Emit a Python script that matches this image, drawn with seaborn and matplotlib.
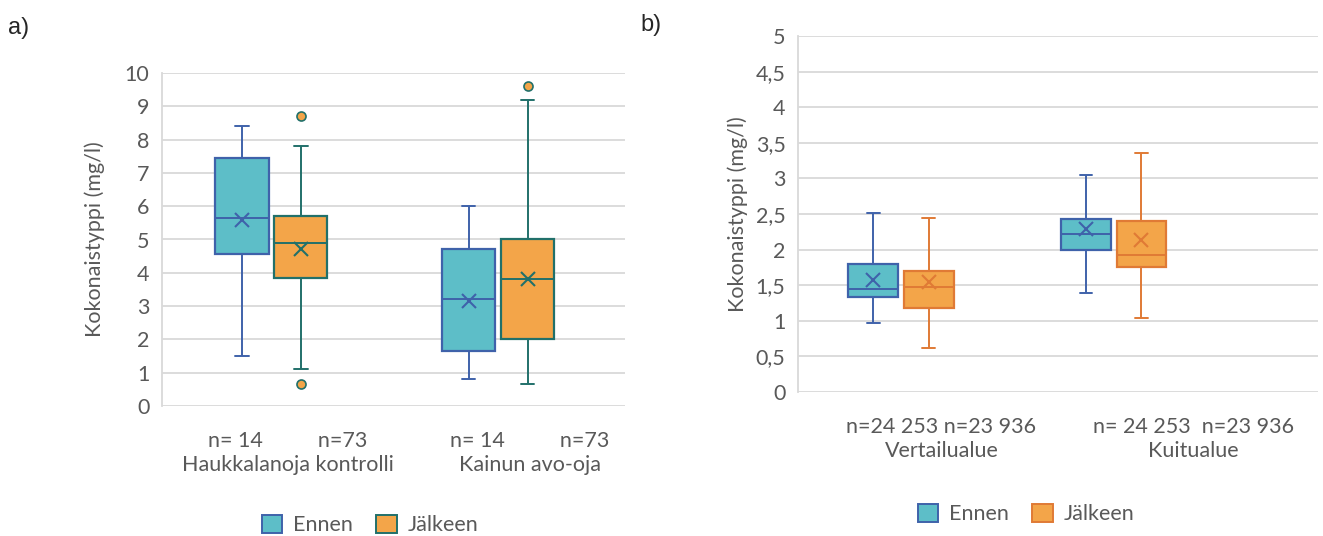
import numpy as np
import pandas as pd
import matplotlib.pyplot as plt
from matplotlib.patches import Patch
import seaborn as sns

# --- data: panel a ---
PERIODS = ["Ennen", "Jälkeen"]
A_SITES = ["Haukkalanoja kontrolli", "Kainun avo-oja"]
A_TICKLABELS = ["n= 14          n=73\nHaukkalanoja kontrolli",
                "n= 14          n=73\nKainun avo-oja"]
A_SITE = ["Haukkalanoja kontrolli", "Haukkalanoja kontrolli", "Kainun avo-oja", "Kainun avo-oja"]
A_PERIOD = ["Ennen", "Jälkeen", "Ennen", "Jälkeen"]
A_LOW = [1.50, 1.12, 0.82, 0.67]
A_Q1 = [4.55, 3.83, 1.66, 2.02]
A_MED = [5.65, 4.90, 3.20, 3.82]
A_Q3 = [7.44, 5.70, 4.70, 5.00]
A_HIGH = [8.40, 7.82, 6.02, 9.20]
A_MEAN = [5.60, 4.70, 3.16, 3.80]
A_OUT_SITE = ["Haukkalanoja kontrolli", "Haukkalanoja kontrolli", "Kainun avo-oja"]
A_OUT_PERIOD = ["Jälkeen", "Jälkeen", "Jälkeen"]
A_OUT_VALUE = [8.72, 0.66, 9.60]
A_YTICKS = [0, 1, 2, 3, 4, 5, 6, 7, 8, 9, 10]
A_YLABELS = ["0", "1", "2", "3", "4", "5", "6", "7", "8", "9", "10"]

# --- data: panel b ---
B_SITES = ["Vertailualue", "Kuitualue"]
B_TICKLABELS = ["n=24 253 n=23 936\nVertailualue",
                "n= 24 253  n=23 936\nKuitualue"]
B_SITE = ["Vertailualue", "Vertailualue", "Kuitualue", "Kuitualue"]
B_PERIOD = ["Ennen", "Jälkeen", "Ennen", "Jälkeen"]
B_LOW = [0.97, 0.62, 1.39, 1.04]
B_Q1 = [1.33, 1.18, 2.00, 1.75]
B_MED = [1.45, 1.47, 2.22, 1.93]
B_Q3 = [1.80, 1.70, 2.43, 2.40]
B_HIGH = [2.52, 2.45, 3.05, 3.36]
B_MEAN = [1.57, 1.55, 2.29, 2.13]
B_YTICKS = [0, 0.5, 1, 1.5, 2, 2.5, 3, 3.5, 4, 4.5, 5]
B_YLABELS = ["0", "0,5", "1", "1,5", "2", "2,5", "3", "3,5", "4", "4,5", "5"]

FILL = {"Ennen": "#5dbec8", "Jälkeen": "#f3a549"}
EDGE_A = {"Ennen": "#3f62aa", "Jälkeen": "#21706a"}
EDGE_B = {"Ennen": "#3f62aa", "Jälkeen": "#e07a35"}
GREY = "#595959"
FS = 15.5

sns.set_style("white")
plt.rcParams["font.family"] = ["Lato", "DejaVu Sans"]


def five_num_frame(sites, periods, low, q1, med, q3, high):
    rows = []
    for s, p, a, b, c, d, e in zip(sites, periods, low, q1, med, q3, high):
        for v in (a, b, c, d, e):
            rows.append({"site": s, "period": p, "value": v})
    return pd.DataFrame(rows)


def draw_panel(ax, sites, ticklabels, box_df, mean_df, edge, yticks, ylabels,
               ylim, xlim, tickpos, out_df=None):
    sns.boxplot(data=box_df, x="site", y="value", hue="period", order=sites,
                hue_order=PERIODS, palette=FILL, saturation=1, whis=np.inf,
                width=0.52, gap=0.1, linewidth=1.4, legend=False, ax=ax)
    # Excel-style colouring: each series has its own outline colour
    for cont, per in zip(ax.containers[-2:], PERIODS):
        col = edge[per]
        for b in cont.boxes:
            b.set_edgecolor(col)
            b.set_linewidth(1.6)
        for ln in list(cont.whiskers) + list(cont.medians):
            ln.set_color(col)
            ln.set_linewidth(1.4)
        for ln in cont.caps:
            ln.set_color(col)
            ln.set_linewidth(1.4)
            xd = np.asarray(ln.get_xdata(), dtype=float)
            c = xd.mean()
            ln.set_xdata(c + (xd - c) * 0.5)

    sns.pointplot(data=mean_df, x="site", y="value", hue="period", order=sites,
                  hue_order=PERIODS, palette=edge, dodge=0.26, markers="x",
                  linestyle="none", errorbar=None, markersize=9.5,
                  markeredgewidth=1.5, legend=False, ax=ax)
    if out_df is not None:
        for i in range(len(out_df)):
            sns.pointplot(data=out_df.iloc[[i]], x="site", y="value", hue="period",
                          order=sites, hue_order=PERIODS, palette=edge, dodge=0.26,
                          markers="o", linestyle="none", errorbar=None,
                          markersize=6.5, markeredgewidth=1.2,
                          markerfacecolor=FILL["Jälkeen"], legend=False, ax=ax)

    ax.set_ylim(*ylim)
    ax.set_yticks(yticks, ylabels)
    ax.set_xlim(*xlim)
    ax.set_xticks(tickpos, ticklabels)
    ax.yaxis.grid(True, color="#d9d9d9", linewidth=1.3)
    ax.set_axisbelow(True)
    for s in ["top", "right", "bottom"]:
        ax.spines[s].set_visible(False)
    ax.spines["left"].set_color("#d9d9d9")
    ax.spines["left"].set_linewidth(1.3)
    ax.tick_params(axis="both", length=0, labelsize=FS, labelcolor=GREY)
    ax.tick_params(axis="y", pad=9)
    ax.tick_params(axis="x", pad=18)
    for t in ax.get_xticklabels():
        t.set_linespacing(1.25)
    ax.set_xlabel("")
    ax.set_ylabel("Kokonaistyppi (mg/l)", fontsize=FS, color=GREY)


fig = plt.figure(figsize=(13.23, 5.36), dpi=100)

ax_a = fig.add_axes([162 / 1323, 1 - 406 / 536, 463 / 1323, 333 / 536])
box_a = five_num_frame(A_SITE, A_PERIOD, A_LOW, A_Q1, A_MED, A_Q3, A_HIGH)
mean_a = pd.DataFrame({"site": A_SITE, "period": A_PERIOD, "value": A_MEAN})
out_a = pd.DataFrame({"site": A_OUT_SITE, "period": A_OUT_PERIOD, "value": A_OUT_VALUE})
draw_panel(ax_a, A_SITES, A_TICKLABELS, box_a, mean_a, EDGE_A, A_YTICKS, A_YLABELS,
           (0, 10), (-0.483, 1.56), [0.073, 1.141], out_df=out_a)
ax_a.yaxis.set_label_coords(-0.123, 0.5)

ax_b = fig.add_axes([798 / 1323, 1 - 392 / 536, 520 / 1323, 356 / 536])
box_b = five_num_frame(B_SITE, B_PERIOD, B_LOW, B_Q1, B_MED, B_Q3, B_HIGH)
mean_b = pd.DataFrame({"site": B_SITE, "period": B_PERIOD, "value": B_MEAN})
draw_panel(ax_b, B_SITES, B_TICKLABELS, box_b, mean_b, EDGE_B, B_YTICKS, B_YLABELS,
           (0, 5), (-0.484, 1.96), [0.19, 1.376])
ax_b.yaxis.set_label_coords(-0.096, 0.5)

# legends
for edge, cx, cy in [(EDGE_A, 370, 525), (EDGE_B, 1026, 514)]:
    handles = [Patch(facecolor=FILL[p], edgecolor=edge[p], linewidth=1.4, label=p)
               for p in PERIODS]
    fig.legend(handles=handles, loc="center", bbox_to_anchor=(cx / 1323, 1 - cy / 536),
               ncol=2, frameon=False, fontsize=FS, handlelength=0.95, handleheight=0.95,
               columnspacing=1.1, handletextpad=0.5, labelcolor=GREY)

fig.text(8 / 1323, 1 - 28 / 536, "a)", fontsize=17, family="Liberation Sans",
         va="center", ha="left")
fig.text(640 / 1323, 1 - 25 / 536, "b)", fontsize=17, family="Liberation Sans",
         va="center", ha="left")

fig.savefig("out.png", dpi=100)
